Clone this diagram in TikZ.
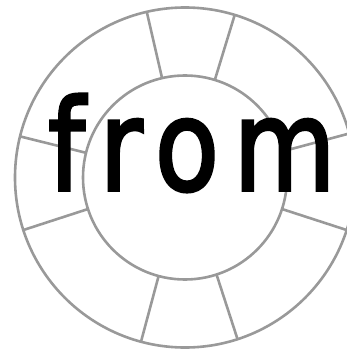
\documentclass[tikz,border=0pt]{standalone}
\usepackage{fontspec}
\newfontfamily\wordfont[FakeBold=2.8,LetterSpace=14]{DejaVu Sans}
\usepackage{graphicx}
\usetikzlibrary{calc}
\begin{document}
\begin{tikzpicture}[x=1pt,y=-1pt,
  ringline/.style={draw=black!40, line width=2.6pt},
  word/.style={inner sep=0pt, anchor=base west, text=black}]
\useasboundingbox (0,0) rectangle (347,350);
\clip (0,0) rectangle (347,350);
\coordinate (c) at (185,177.5);
\draw[ringline] (c) circle[radius=170];
\draw[ringline] (c) circle[radius=102];
\foreach \a in {18,72,105,162,194,257,287,-15}{
  \draw[ringline] ($(c)+(\a:102)$) -- ($(c)+(\a:170)$);
}
\node[word] (w) at (48,190) {\scalebox{0.83}[1]{\wordfont\fontsize{126pt}{126pt}\selectfont from}};
\end{tikzpicture}
\end{document}
